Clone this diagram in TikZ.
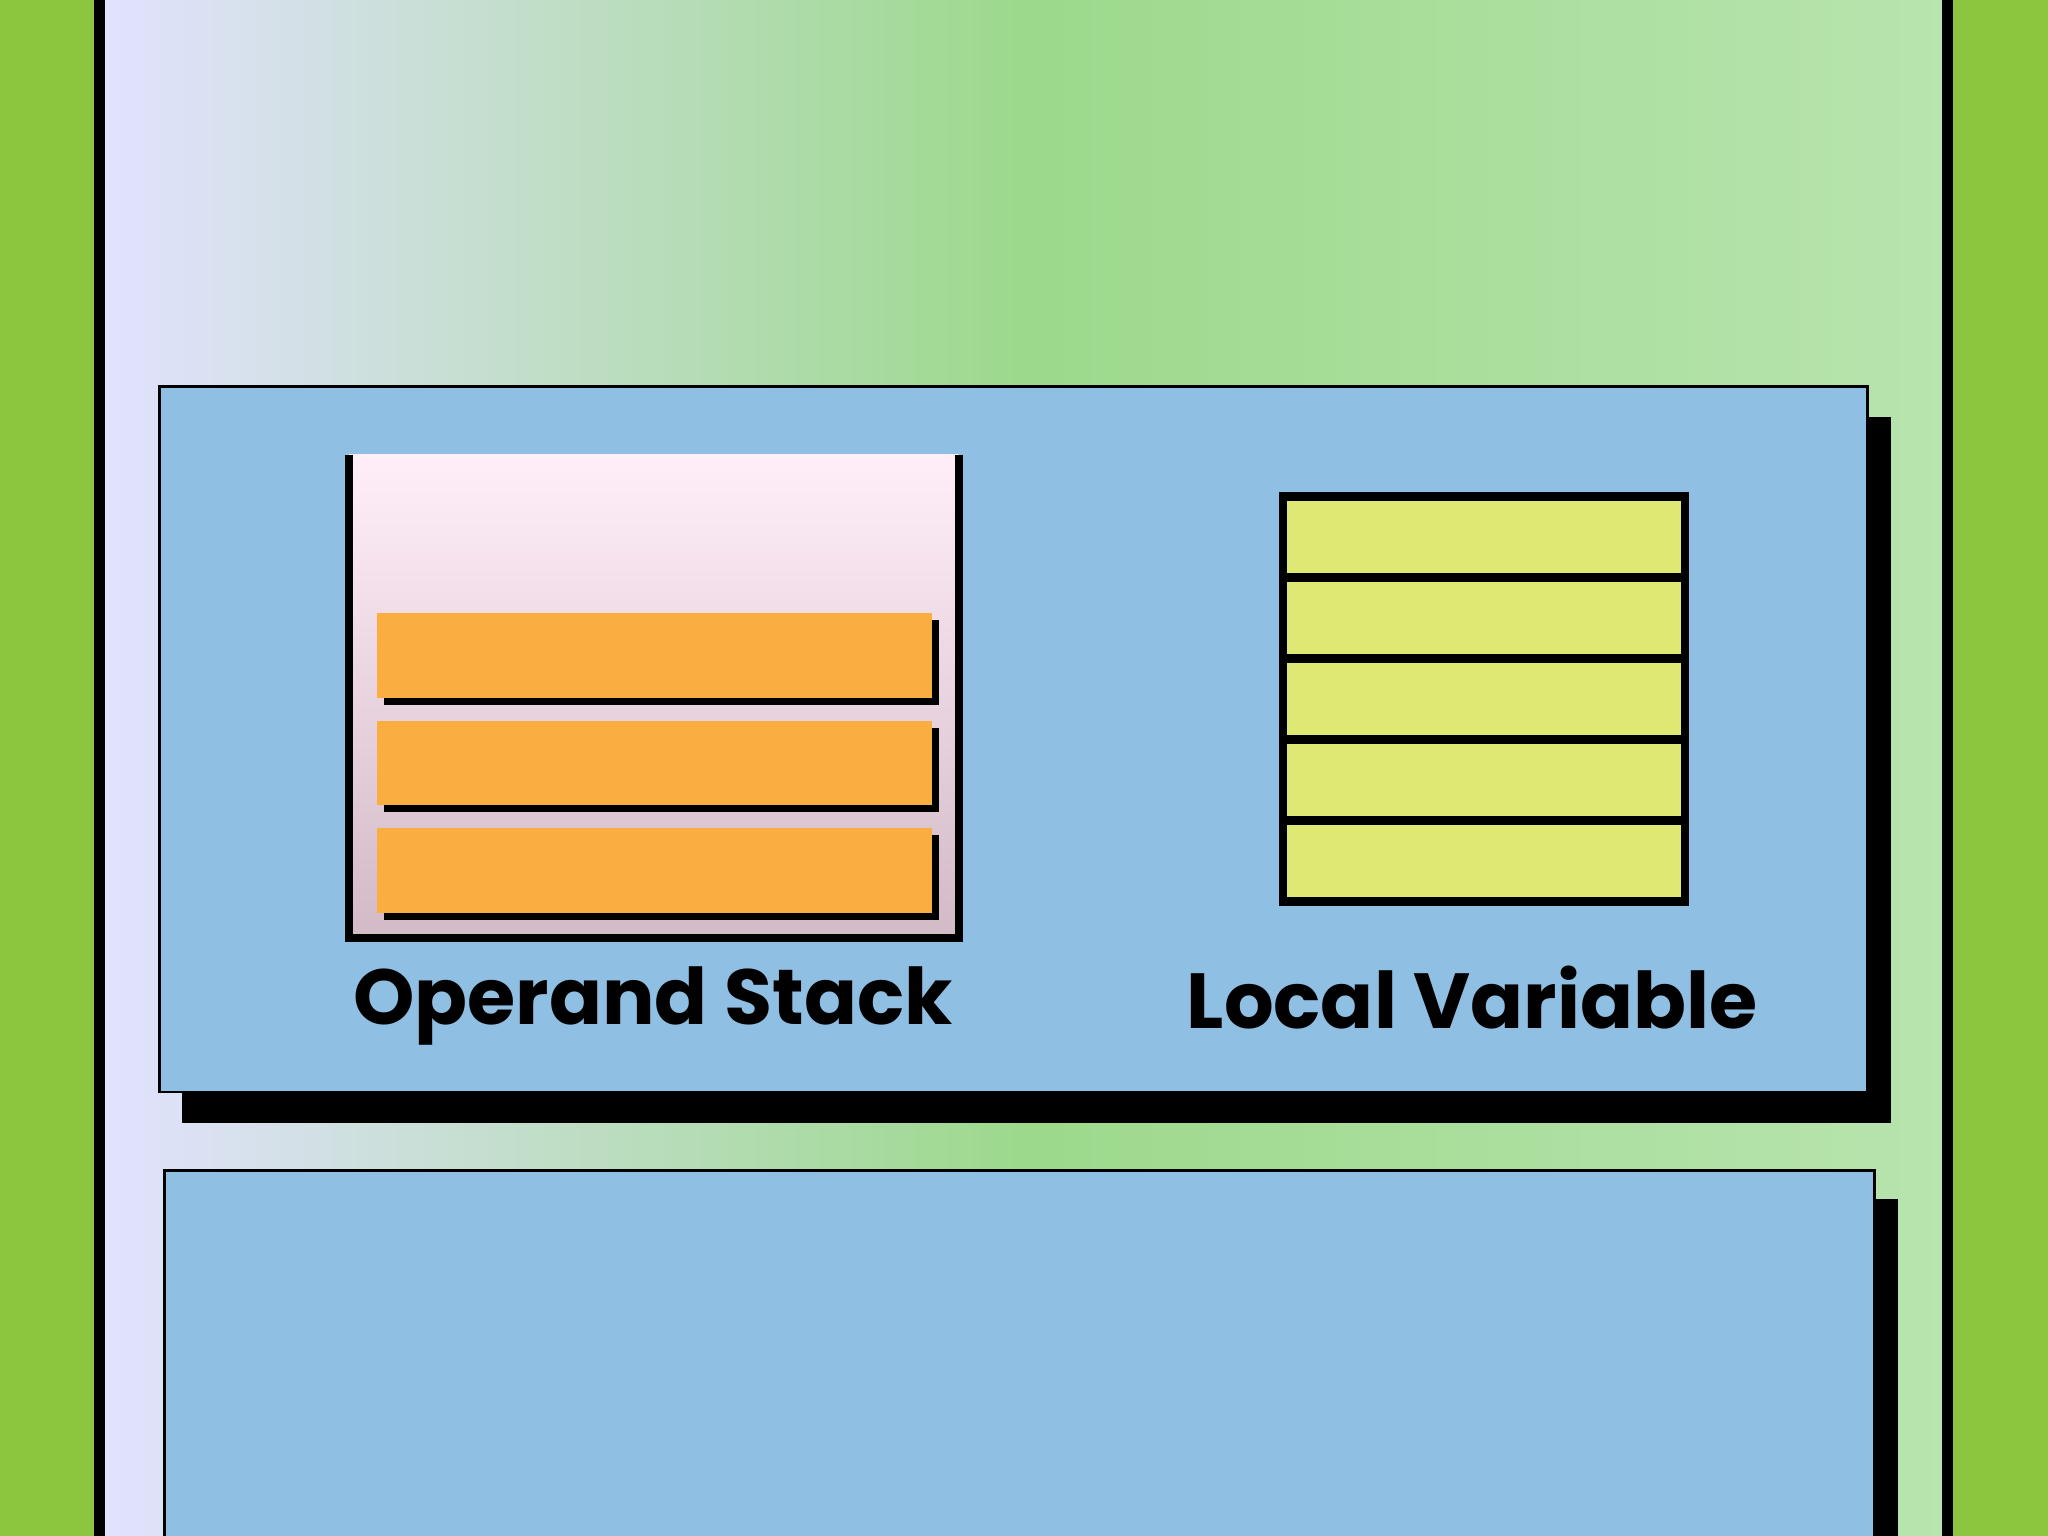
\documentclass[tikz,border=0pt]{standalone}
\usepackage{fontspec}
\setmainfont{Poppins}
\begin{document}
\begin{tikzpicture}[x=0.01cm,y=-0.01cm,
  bar/.style={fill=barc},
  shad/.style={fill=black},
  lbl/.style={font=\fontsize{17}{20}\selectfont\bfseries, inner sep=0pt}]
\definecolor{bg}{HTML}{8CC63F}
\definecolor{panL}{HTML}{E2E2FF}
\definecolor{panM}{HTML}{9CD98C}
\definecolor{panR}{HTML}{B8E4AE}
\definecolor{boxc}{HTML}{8FBFE2}
\definecolor{barc}{HTML}{FAAE40}
\definecolor{lvc}{HTML}{DDE972}
\definecolor{stT}{HTML}{FFEEF8}
\definecolor{stB}{HTML}{D2BAC6}
\useasboundingbox (0,0) rectangle (1568,1176);
\fill[bg] (0,0) rectangle (1568,1176);
\shade[left color=panL, right color=panR, middle color=panM, line width=0pt] (76,0) rectangle (1491,1176);
\draw[line width=2.5pt] (76,0) -- (76,1176) (1491,0) -- (1491,1176);
% top box
\fill (139,319) rectangle (1448,860);
\node[draw=black, fill=boxc, line width=0.6pt, minimum width=1308*0.01cm, minimum height=540*0.01cm, anchor=north west, inner sep=0pt] (top) at (121,295) {};
% bottom box
\fill (143,918) rectangle (1453,1176);
\node[draw=black, fill=boxc, line width=0.6pt, minimum width=1309*0.01cm, minimum height=300*0.01cm, anchor=north west, inner sep=0pt] (bot) at (125,895) {};
% operand stack
\shade[top color=stT, bottom color=stB] (267,348) rectangle (734,718);
\draw[line width=1.8pt] (267,348) -- (267,718) -- (734,718) -- (734,348);
\foreach \y/\n in {469/a,551/b,633/c}{
  \fill[shad] (294,\y+6) rectangle (719,\y+71);
  \node[bar, minimum width=425*0.01cm, minimum height=65*0.01cm, anchor=north west, inner sep=0pt] (bar\n) at (288,\y) {};
}
\node[lbl] (os) at (500,770) {Operand Stack};
% local variable
\foreach \i in {0,...,4}{
  \node[draw=black, fill=lvc, line width=1.8pt, minimum width=308*0.01cm, minimum height=62*0.01cm, anchor=north west, inner sep=0pt] (lv\i) at (979,377+62*\i) {};
}
\node[lbl] (lv) at (1127,764) {Local Variable};
\end{tikzpicture}
\end{document}
